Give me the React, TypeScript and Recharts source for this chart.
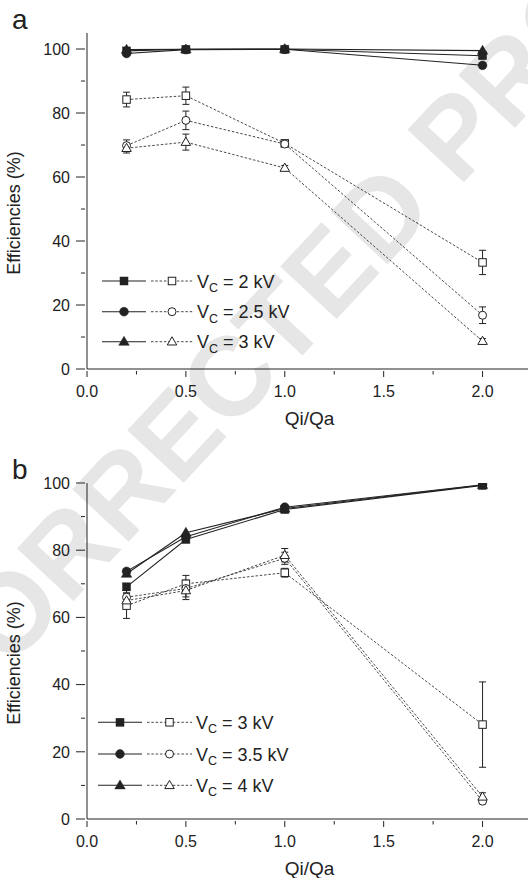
import React from "react";
import { LineChart, Line, XAxis, YAxis, ErrorBar } from "recharts";

const FONT = '"Liberation Sans", Arial, Helvetica, sans-serif';
const INK = "#222";

// Qi/Qa sampling points shared by every series
const qiQa = [0.2, 0.5, 1.0, 2.0];

// panel a: Vc = 2, 2.5, 3 kV
const aVoltages = ["2", "2.5", "3"];
const aSquareSolid = [99.4, 99.9, 99.9, 97.9];
const aCircleSolid = [98.6, 99.8, 99.9, 94.9];
const aTriangleSolid = [99.8, 99.9, 100.0, 99.5];
const aSquareOpen = [84.2, 85.4, 70.5, 33.3];
const aSquareOpenErr = [2.3, 2.7, 1.0, 3.8];
const aCircleOpen = [69.8, 77.7, 70.3, 16.8];
const aCircleOpenErr = [1.8, 2.9, 0.8, 2.6];
const aTriangleOpen = [69.0, 70.9, 62.8, 8.7];
const aTriangleOpenErr = [1.5, 2.5, 0.8, 0.8];

// panel b: Vc = 3, 3.5, 4 kV
const bVoltages = ["3", "3.5", "4"];
const bSquareSolid = [69.1, 83.2, 92.1, 99.3];
const bCircleSolid = [73.7, 84.0, 92.8, 99.5];
const bTriangleSolid = [73.0, 85.2, 92.4, 99.4];
const bSquareOpen = [63.5, 70.0, 73.3, 28.1];
const bSquareOpenErr = [3.8, 2.5, 1.3, 12.7];
const bCircleOpen = [66.0, 68.6, 77.6, 5.3];
const bCircleOpenErr = [2.0, 2.5, 1.8, 0.8];
const bTriangleOpen = [65.0, 68.0, 78.5, 6.6];
const bTriangleOpenErr = [2.2, 2.7, 2.0, 1.2];

const xTicks = [0, 0.25, 0.5, 0.75, 1, 1.25, 1.5, 1.75, 2];
const yTicks = [0, 10, 20, 30, 40, 50, 60, 70, 80, 90, 100];
const yMajorTicks = [0, 20, 40, 60, 80, 100];

const CHART_W = 542;
const CHART_H = 445;

type Shape = "square" | "circle" | "triangle";

function Marker({ cx, cy, shape, open }: { cx: number; cy: number; shape: Shape; open: boolean }) {
  const fill = open ? "#fff" : INK;
  const sw = open ? 1 : 0.5;
  if (shape === "square") {
    const s = open ? 7.5 : 8;
    return <rect x={cx - s / 2} y={cy - s / 2} width={s} height={s} fill={fill} stroke={INK} strokeWidth={sw} />;
  }
  if (shape === "circle") {
    return <circle cx={cx} cy={cy} r={open ? 4 : 4.4} fill={fill} stroke={INK} strokeWidth={sw} />;
  }
  const w = open ? 9.5 : 10.5;
  const h = open ? 8.2 : 9;
  return (
    <polygon
      points={`${cx},${cy - h * 0.6} ${cx + w / 2},${cy + h * 0.4} ${cx - w / 2},${cy + h * 0.4}`}
      fill={fill}
      stroke={INK}
      strokeWidth={sw}
    />
  );
}

const isMajorX = (v: number) => Math.abs(v * 2 - Math.round(v * 2)) < 1e-6;

function BottomTick({ x, y, payload }: any) {
  const v = payload.value;
  const major = isMajorX(v);
  return (
    <g>
      <line x1={x} x2={x} y1={y} y2={y + (major ? 6 : 3.5)} stroke={INK} />
      {major && (
        <text x={x} y={y + 26} textAnchor="middle" fontSize={16} fill={INK} fontFamily={FONT}>
          {v.toFixed(1)}
        </text>
      )}
    </g>
  );
}

function TopTick({ x, y, payload }: any) {
  const major = isMajorX(payload.value);
  return <line x1={x} x2={x} y1={y} y2={y + (major ? 5 : 3)} stroke={INK} />;
}

function LeftTick({ x, y, payload }: any) {
  const v = payload.value;
  const major = v % 20 === 0;
  return (
    <g>
      <line x1={x} x2={x - (major ? 9 : 4)} y1={y} y2={y} stroke={INK} />
      {major && (
        <text x={x - 15} y={y + 5.7} textAnchor="end" fontSize={16} fill={INK} fontFamily={FONT}>
          {v}
        </text>
      )}
    </g>
  );
}

function RightTick({ x, y }: any) {
  return <line x1={x} x2={x - 5} y1={y} y2={y} stroke={INK} />;
}

function XTitle({ viewBox }: any) {
  const cx = viewBox.x + viewBox.width / 2;
  return (
    <text x={cx} y={viewBox.y + 56} textAnchor="middle" fontSize={19} fill={INK} fontFamily={FONT}>
      Qi/Qa
    </text>
  );
}

function YTitle({ viewBox }: any) {
  const cx = 20;
  const cy = viewBox.y + viewBox.height / 2 + 12;
  return (
    <text x={cx} y={cy} transform={`rotate(-90 ${cx} ${cy})`} textAnchor="middle" fontSize={18} fill={INK} fontFamily={FONT}>
      Efficiencies (%)
    </text>
  );
}

type Series = { name: string; values: number[]; errors?: number[]; shape: Shape; open: boolean };

const rows = (values: number[], errors?: number[]) =>
  qiQa.map((x, i) => ({ x, y: values[i], err: errors ? errors[i] : 0 }));

function Legend({ voltages, rowsY, solidX, dashX, textX }: { voltages: string[]; rowsY: number[]; solidX: number[]; dashX: number[]; textX: number }) {
  const shapes: Shape[] = ["square", "circle", "triangle"];
  return (
    <svg width={300} height={CHART_H} style={{ position: "absolute", left: 0, top: 0, pointerEvents: "none" }}>
      {voltages.map((v, i) => {
        const y = rowsY[i];
        const sm = (solidX[0] + solidX[1]) / 2;
        const dm = (dashX[0] + dashX[1]) / 2;
        return (
          <g key={v}>
            <line x1={solidX[0]} x2={solidX[1]} y1={y} y2={y} stroke={INK} strokeWidth={1.1} />
            <Marker cx={sm} cy={y} shape={shapes[i]} open={false} />
            <line x1={dashX[0]} x2={dashX[1]} y1={y} y2={y} stroke="#333" strokeWidth={0.9} strokeDasharray="2.5 1.8" />
            <Marker cx={dm} cy={y} shape={shapes[i]} open />
            <text x={textX} y={y + 6.5} fontSize={18} fill={INK} fontFamily={FONT}>
              V
              <tspan fontSize={12.5} dy={4.5}>C</tspan>
              <tspan dy={-4.5}>{` = ${v} kV`}</tspan>
            </text>
          </g>
        );
      })}
    </svg>
  );
}

function Panel({ top, letter, yMax, series, legend }: { top: number; letter: string; yMax: number; series: Series[]; legend: React.ReactNode }) {
  // open (dashed) series go underneath the solid ones
  const drawOrder = [...series.filter((s) => s.open), ...series.filter((s) => !s.open)];
  return (
    <div style={{ position: "absolute", left: 0, top, width: CHART_W, height: CHART_H }}>
      <div style={{ position: "absolute", left: 12, top: 32 - 28 * 0.93, fontFamily: FONT, fontSize: 28, lineHeight: 1, color: INK }}>
        {letter}
      </div>
      <LineChart width={CHART_W} height={CHART_H} margin={{ top: 33, right: 0, bottom: 16, left: 0 }} style={{ position: "absolute", left: 0, top: 0 }}>
        <XAxis
          xAxisId="bottom"
          dataKey="x"
          type="number"
          domain={[0, 2.25]}
          ticks={xTicks}
          allowDataOverflow
          height={60}
          tickSize={0}
          tickLine={false}
          tick={<BottomTick />}
          axisLine={{ stroke: INK }}
          label={{ content: <XTitle /> }}
        />
        <XAxis
          xAxisId="top"
          orientation="top"
          dataKey="x"
          type="number"
          domain={[0, 2.25]}
          ticks={xTicks}
          allowDataOverflow
          height={0}
          tickSize={0}
          tickLine={false}
          tick={<TopTick />}
          axisLine={{ stroke: INK }}
        />
        <YAxis
          yAxisId="left"
          type="number"
          domain={[0, yMax]}
          ticks={yTicks}
          allowDataOverflow
          width={87}
          tickSize={0}
          tickLine={false}
          tick={<LeftTick />}
          axisLine={{ stroke: INK }}
          label={{ content: <YTitle /> }}
        />
        <YAxis
          yAxisId="right"
          orientation="right"
          type="number"
          domain={[0, yMax]}
          ticks={yMajorTicks}
          allowDataOverflow
          width={10}
          tickSize={0}
          tickLine={false}
          tick={<RightTick />}
          axisLine={{ stroke: INK }}
        />
        {drawOrder.map((s) => (
          <Line
            key={s.name}
            name={s.name}
            data={rows(s.values, s.errors)}
            dataKey="y"
            xAxisId="bottom"
            yAxisId="left"
            type="linear"
            stroke={s.open ? "#333" : INK}
            strokeWidth={s.open ? 0.9 : 1.1}
            strokeDasharray={s.open ? "2.5 1.8" : undefined}
            dot={(p: any) => <Marker key={`${s.name}-${p.index}`} cx={p.cx} cy={p.cy} shape={s.shape} open={s.open} />}
            activeDot={false}
            isAnimationActive={false}
          >
            {s.errors && <ErrorBar dataKey="err" direction="y" width={3.5} stroke={INK} strokeWidth={1} />}
          </Line>
        ))}
      </LineChart>
      {legend}
    </div>
  );
}

const aSeries: Series[] = [
  { name: "a-sq-open", values: aSquareOpen, errors: aSquareOpenErr, shape: "square", open: true },
  { name: "a-ci-open", values: aCircleOpen, errors: aCircleOpenErr, shape: "circle", open: true },
  { name: "a-tr-open", values: aTriangleOpen, errors: aTriangleOpenErr, shape: "triangle", open: true },
  { name: "a-sq", values: aSquareSolid, shape: "square", open: false },
  { name: "a-ci", values: aCircleSolid, shape: "circle", open: false },
  { name: "a-tr", values: aTriangleSolid, shape: "triangle", open: false },
];

const bSeries: Series[] = [
  { name: "b-sq-open", values: bSquareOpen, errors: bSquareOpenErr, shape: "square", open: true },
  { name: "b-ci-open", values: bCircleOpen, errors: bCircleOpenErr, shape: "circle", open: true },
  { name: "b-tr-open", values: bTriangleOpen, errors: bTriangleOpenErr, shape: "triangle", open: true },
  { name: "b-sq", values: bSquareSolid, shape: "square", open: false },
  { name: "b-ci", values: bCircleSolid, shape: "circle", open: false },
  { name: "b-tr", values: bTriangleSolid, shape: "triangle", open: false },
];

function Watermark() {
  const bx = 342;
  const by = 313;
  return (
    <svg width={528} height={878} style={{ position: "absolute", left: 0, top: 0 }}>
      <text
        x={bx}
        y={by}
        transform={`rotate(-47 ${bx} ${by})`}
        textAnchor="middle"
        fontSize={112}
        fontWeight="bold"
        fill="#e6e6e6"
        fontFamily={FONT}
      >
        CORRECTED PROOF
      </text>
    </svg>
  );
}

export default function App() {
  return (
    <div style={{ position: "absolute", left: 0, top: 0, width: 528, height: 878, overflow: "hidden", background: "#fff" }}>
      <Watermark />
      <Panel
        top={0}
        letter="a"
        yMax={105}
        series={aSeries}
        legend={<Legend voltages={aVoltages} rowsY={[281, 311.7, 341.7]} solidX={[102, 146]} dashX={[151, 193]} textX={197} />}
      />
      <Panel
        top={450}
        letter="b"
        yMax={100}
        series={bSeries}
        legend={<Legend voltages={bVoltages} rowsY={[272.3, 304, 335.3]} solidX={[98, 142]} dashX={[147, 192]} textX={196} />}
      />
    </div>
  );
}
